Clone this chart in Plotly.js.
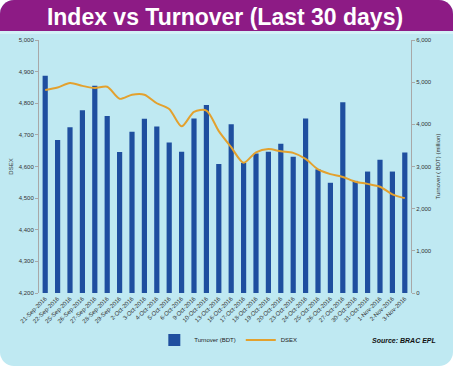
<!DOCTYPE html>
<html>
<head>
<meta charset="utf-8">
<script src="https://cdn.plot.ly/plotly-3.0.1.min.js"></script>
<style>
  html, body { margin:0; padding:0; background:#ffffff; }
  #wrap { position:relative; width:453px; height:366px; overflow:hidden; }
  #bg { position:absolute; left:0; top:0; width:453px; height:366px; border-radius:14px; background:#bfe9f2; overflow:hidden; }
  #band { position:absolute; left:0; top:0; width:453px; height:31px; background:#8d1b85; }
  #strip { position:absolute; left:0; top:31px; width:453px; height:3px; background:#d3f1f7; }
  #chart { position:absolute; left:0; top:0; width:453px; height:366px; }
</style>
</head>
<body>
<div id="wrap">
  <div id="bg"><div id="band"></div><div id="strip"></div></div>
  <div id="chart"></div>
</div>
<script>
const dates = ["21-Sep-2016","22-Sep-2016","25-Sep-2016","26-Sep-2016","27-Sep-2016","28-Sep-2016","29-Sep-2016",
  "2-Oct-2016","3-Oct-2016","4-Oct-2016","5-Oct-2016","6-Oct-2016","9-Oct-2016","10-Oct-2016","13-Oct-2016",
  "16-Oct-2016","17-Oct-2016","18-Oct-2016","19-Oct-2016","20-Oct-2016","23-Oct-2016","24-Oct-2016","25-Oct-2016",
  "26-Oct-2016","27-Oct-2016","30-Oct-2016","31-Oct-2016","1-Nov-2016","2-Nov-2016","3-Nov-2016"];

const turnover = [5152,3630,3932,4334,4916,4198,3341,3825,4130,3948,3568,3348,4136,4461,3061,
  4000,3084,3311,3348,3539,3234,4136,2932,2614,4523,2659,2880,3159,2880,3334];

const dsex = [4842,4850,4864,4855,4848,4852,4814,4827,4827,4800,4782,4727,4773,4777,4712,
  4661,4612,4645,4655,4648,4643,4624,4591,4576,4567,4552,4545,4536,4512,4500];

const leftTicks = [4200,4300,4400,4500,4600,4700,4800,4900,5000];
const rightTicks = [0,1000,2000,3000,4000,5000,6000];

const tickFont = {family:"Liberation Sans, Arial, sans-serif", size:6, color:"#333333"};

const traces = [
  {type:"bar", name:"Turnover (BDT)", x:dates, y:turnover, yaxis:"y",
   marker:{color:"#1f4f9f"}},
  {type:"scatter", mode:"lines", name:"DSEX", x:dates, y:dsex, yaxis:"y2",
   line:{color:"#e3a12e", width:2, shape:"spline", smoothing:0.8}}
];

const layout = {
  width:453, height:366,
  margin:{l:39, r:42, t:40, b:62},
  paper_bgcolor:"rgba(0,0,0,0)",
  plot_bgcolor:"rgba(0,0,0,0)",
  bargap:0.58,
  showlegend:true,
  title:{text:"Index vs Turnover (Last 30 days)", x:0.5, xanchor:"center", xref:"paper",
         y:0.955, yanchor:"middle", yref:"container",
         font:{family:"Liberation Sans, Arial, sans-serif", size:23, color:"#ffffff", weight:"bold"}},
  xaxis:{type:"category", tickangle:-45, tickfont:{family:"Liberation Sans, Arial, sans-serif", size:6, color:"#333333"},
         showgrid:false, zeroline:false, showline:false, ticks:"", automargin:false},
  yaxis:{side:"right", range:[0,6000], tickvals:rightTicks, tickformat:",d", tickfont:tickFont,
         showgrid:false, zeroline:false, showline:true, linecolor:"#a8a8a8", linewidth:1,
         ticks:"outside", ticklen:3, tickcolor:"#a8a8a8",
         title:{text:"Turnover ( BDT) (million)", font:{family:"Liberation Sans, Arial, sans-serif", size:6, color:"#333333"}, standoff:4},
         automargin:false},
  yaxis2:{overlaying:"y", side:"left", range:[4200,5000], tickvals:leftTicks, tickformat:",d", tickfont:tickFont,
          showgrid:false, zeroline:false, showline:true, linecolor:"#a8a8a8", linewidth:1,
          ticks:"outside", ticklen:3, tickcolor:"#a8a8a8",
          title:{text:"DSEX", font:{family:"Liberation Sans, Arial, sans-serif", size:6, color:"#333333"}, standoff:4},
          automargin:false},
  legend:{orientation:"h", x:0.31, xanchor:"left", y:-0.186, yanchor:"middle",
          font:{family:"Liberation Sans, Arial, sans-serif", size:6, color:"#222222"},
          bgcolor:"rgba(0,0,0,0)", itemwidth:30, tracegroupgap:0},
  annotations:[{text:"<b><i>Source: BRAC EPL</i></b>", xref:"paper", yref:"paper", x:1.073, y:-0.186,
                xanchor:"right", yanchor:"middle", showarrow:false,
                font:{family:"Liberation Sans Narrow, Arial, sans-serif", size:7, color:"#111111"}}]
};

Plotly.newPlot("chart", traces, layout, {staticPlot:true, displayModeBar:false});
</script>
</body>
</html>
